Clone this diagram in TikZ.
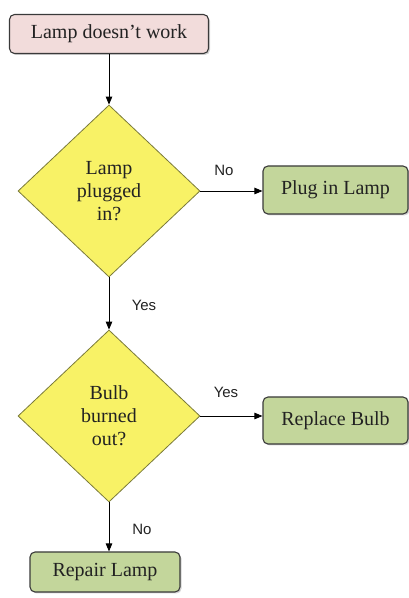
\documentclass[tikz,border=0pt]{standalone}
\usepackage{fontspec}
\setmainfont{Liberation Serif}
\newfontfamily\lblfont{Liberation Sans}
\usetikzlibrary{shapes.geometric,arrows.meta,shadows}
\definecolor{pinkfill}{HTML}{F2DCDB}
\definecolor{greenfill}{HTML}{C3D69B}
\definecolor{yellowfill}{HTML}{F8F266}
\definecolor{boxline}{HTML}{3A3A3A}
\definecolor{diamline}{HTML}{7A7A3A}
\definecolor{txt}{HTML}{222222}
\tikzset{
  boxbase/.style={rectangle, rounded corners=5pt, draw=boxline, line width=1.1pt,
    text=txt, font=\fontsize{20}{23}\selectfont, inner sep=0pt,
    drop shadow={shadow xshift=1.5pt, shadow yshift=-1.5pt, opacity=0.35}},
  startbox/.style={boxbase, fill=pinkfill},
  endbox/.style={boxbase, fill=greenfill},
  decision/.style={diamond, draw=diamline, line width=0.8pt, fill=yellowfill,
    text=txt, font=\fontsize{20}{23}\selectfont, align=center, inner sep=0pt,
    minimum width=182pt, minimum height=172pt},
  conn/.style={line width=0.9pt, draw=black, -{Triangle[length=8pt,width=6.5pt]}},
  lbl/.style={font=\lblfont\fontsize{15}{17}\selectfont, text=txt, inner sep=0pt}
}
\begin{document}
\begin{tikzpicture}[x=1pt,y=1pt]
\useasboundingbox (0,0) rectangle (409,598);
\node[startbox, minimum width=199pt, minimum height=39pt] (start) at (109,564) {Lamp doesn't work};
\node[decision] (d1) at (109,407) {Lamp\\plugged\\in?};
\node[endbox, minimum width=145pt, minimum height=48pt] (plug) at (335.5,408) {Plug in Lamp};
\node[decision] (d2) at (109,182) {Bulb\\burned\\out?};
\node[endbox, minimum width=145pt, minimum height=47pt] (replace) at (335.5,177.5) {Replace Bulb};
\node[endbox, minimum width=150pt, minimum height=40pt] (repair) at (105,26) {Repair Lamp};

\draw[conn] (start.south -| d1.north) -- (d1.north);
\draw[conn] (d1.east) -- (d1.east -| plug.west);
\draw[conn] (d1.south) -- (d2.north);
\draw[conn] (d2.east) -- (d2.east -| replace.west);
\draw[conn] (d2.south) -- (d2.south |- repair.north);

\node[lbl] (l1) at (224,428) {No};
\node[lbl] (l2) at (144,293) {Yes};
\node[lbl] (l3) at (226,206) {Yes};
\node[lbl] (l4) at (142,69) {No};
\end{tikzpicture}
\end{document}
